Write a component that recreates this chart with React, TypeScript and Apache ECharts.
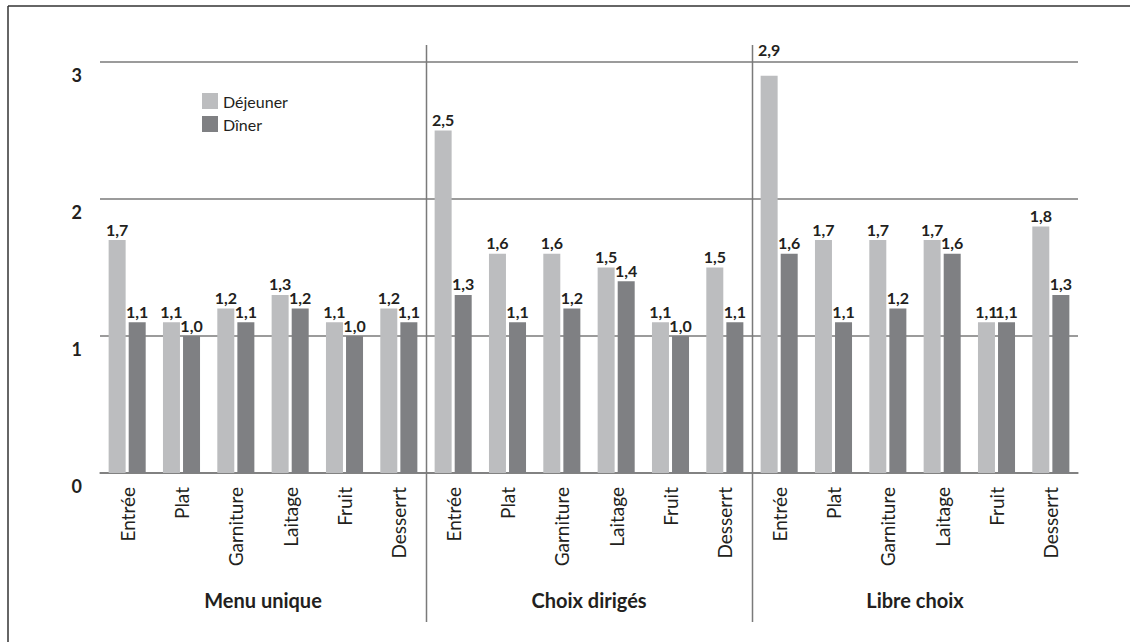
import React, { useEffect, useRef } from "react";
import * as echarts from "echarts";

const categories = [
  "Entrée", "Plat", "Garniture", "Laitage", "Fruit", "Desserrt",
  "Entrée", "Plat", "Garniture", "Laitage", "Fruit", "Desserrt",
  "Entrée", "Plat", "Garniture", "Laitage", "Fruit", "Desserrt",
];
const groups = ["Menu unique", "Choix dirigés", "Libre choix"];
const dejeuner = [1.7, 1.1, 1.2, 1.3, 1.1, 1.2, 2.5, 1.6, 1.6, 1.5, 1.1, 1.5, 2.9, 1.7, 1.7, 1.7, 1.1, 1.8];
const diner = [1.1, 1.0, 1.1, 1.2, 1.0, 1.1, 1.3, 1.1, 1.2, 1.4, 1.0, 1.1, 1.6, 1.1, 1.2, 1.6, 1.1, 1.3];
const yTicks = [0, 1, 2, 3];

const FONT = "Lato, 'Open Sans', sans-serif";
const LIGHT = "#bcbdbf";
const DARK = "#7f8083";
const GRID = "#7a7a7a";
const TEXT = "#231f20";

const fmt = (v: number) => v.toFixed(1).replace(".", ",");

export default function App() {
  const ref = useRef<HTMLDivElement>(null);
  useEffect(() => {
    if (!ref.current) return;
    const chart = echarts.init(ref.current, null, { renderer: "svg" });
    const labelCfg = {
      show: true,
      position: "top" as const,
      distance: 3,
      fontFamily: FONT,
      fontWeight: 700,
      fontSize: 16,
      color: TEXT,
      formatter: (p: any) => fmt(p.value),
    };
    const mk = (arr: number[]) =>
      arr.map((v) => (v > 2.8 ? { value: v, label: { distance: 18 } } : v));
    chart.setOption({
      animation: false,
      grid: { left: 100, right: 52, top: 62, height: 411 },
      legend: {
        orient: "vertical",
        left: 197,
        top: 88,
        itemWidth: 16,
        itemHeight: 16,
        itemGap: 7,
        textStyle: { fontFamily: FONT, fontSize: 16, color: TEXT },
        data: [
          { name: "Déjeuner", icon: "rect" },
          { name: "Dîner", icon: "rect" },
        ],
      },
      xAxis: [
        {
          type: "category",
          data: categories,
          axisLine: { show: true, lineStyle: { color: GRID, width: 1.5 } },
          axisTick: { show: false },
          axisLabel: {
            rotate: 90,
            interval: 0,
            margin: 14,
            fontFamily: FONT,
            fontSize: 19,
            color: TEXT,
          },
        },
        {
          type: "category",
          data: groups,
          position: "bottom",
          offset: 112,
          axisLine: { show: false },
          axisTick: { show: false },
          axisLabel: {
            interval: 0,
            margin: 5,
            fontFamily: FONT,
            fontSize: 20,
            fontWeight: 700,
            color: TEXT,
          },
        },
      ],
      yAxis: {
        type: "value",
        min: yTicks[0],
        max: yTicks[yTicks.length - 1],
        interval: 1,
        axisLine: { show: false },
        axisTick: { show: false },
        splitLine: { show: true, lineStyle: { color: GRID, width: 1.5 } },
        axisLabel: {
          margin: 18,
          verticalAlign: "top",
          padding: [4, 0, 0, 0],
          fontFamily: FONT,
          fontWeight: 700,
          fontSize: 18,
          color: TEXT,
        },
      },
      series: [
        {
          name: "Déjeuner",
          type: "bar",
          data: mk(dejeuner),
          barWidth: 17,
          barGap: "18%",
          itemStyle: { color: LIGHT },
          label: labelCfg,
        },
        {
          name: "Dîner",
          type: "bar",
          data: mk(diner),
          barWidth: 17,
          itemStyle: { color: DARK },
          label: labelCfg,
        },
      ],
    });

    const seps: any[] = [];
    for (const b of [6, 12]) {
      const a = chart.convertToPixel({ xAxisIndex: 0 }, b - 1) as number;
      const c = chart.convertToPixel({ xAxisIndex: 0 }, b) as number;
      const x = Math.round((a + c) / 2) + 0.5;
      seps.push({
        type: "line",
        shape: { x1: x, y1: 45, x2: x, y2: 622 },
        style: { stroke: GRID, lineWidth: 1.5 },
        z: 10,
      });
    }
    chart.setOption({
      graphic: [
        {
          type: "line",
          shape: { x1: 8, y1: 6, x2: 1130, y2: 6 },
          style: { stroke: "#333", lineWidth: 1.5 },
        },
        {
          type: "line",
          shape: { x1: 8, y1: 6, x2: 8, y2: 642 },
          style: { stroke: "#333", lineWidth: 1.5 },
        },
        ...seps,
      ],
    });
    return () => chart.dispose();
  }, []);
  return (
    <div style={{ position: "absolute", left: 0, top: 0, width: 1130, height: 642, background: "#fff" }}>
      <div ref={ref} style={{ width: 1130, height: 642 }} />
    </div>
  );
}
